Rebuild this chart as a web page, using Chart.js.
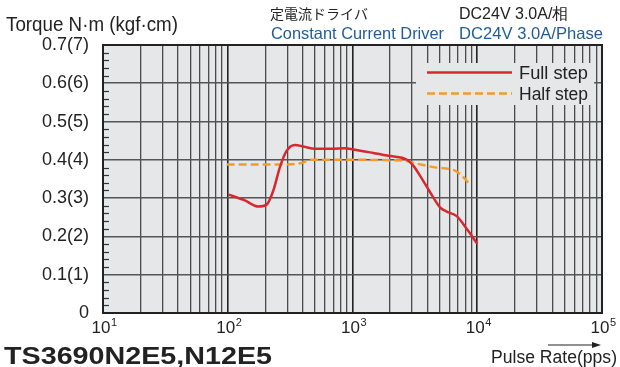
<!DOCTYPE html>
<html>
<head>
<meta charset="utf-8">
<script src="https://cdn.jsdelivr.net/npm/chart.js@4/dist/chart.umd.min.js"></script>
<style>
  html, body { margin: 0; padding: 0; background: #fff; }
  canvas { display: block; }
</style>
</head>
<body>
<canvas id="torque-chart" width="620" height="367"></canvas>
<script>
// Pulse rate (pps) / torque (N·m)
const fullStepX = [102, 137, 176, 205, 232, 262, 297, 346, 404, 500, 680, 871, 1014, 1468, 2000, 2717, 3070, 3473, 4178, 5025, 5685, 6838, 8228, 10000];
const fullStepY = [0.309, 0.294, 0.278, 0.283, 0.320, 0.381, 0.424, 0.439, 0.435, 0.429, 0.429, 0.430, 0.427, 0.418, 0.410, 0.401, 0.385, 0.359, 0.316, 0.276, 0.265, 0.253, 0.220, 0.181];
const halfStepX = [98, 270, 390, 468, 1047, 2554, 3070, 4449, 6637, 7278, 7980, 8870];
const halfStepY = [0.388, 0.388, 0.392, 0.400, 0.400, 0.398, 0.392, 0.381, 0.372, 0.363, 0.350, 0.333];

const decades = [10, 100, 1000, 10000, 100000];
const decadeLabels = ['1', '2', '3', '4', '5'];
const seriesNames = ['Full step', 'Half step'];

const FONT = '"Liberation Sans", Arial, Helvetica, sans-serif';
const CJK = '"Noto Sans CJK JP", "Liberation Sans", sans-serif';
const BLUE = '#1f5c9c';
const RED = '#d7282f';
const ORANGE = '#f39c2b';
const PLOT_BG = '#e6e7e9';

// tick values for the log grid: 1..9 of each decade
const xGridValues = [];
decades.slice(0, -1).forEach(d => {
    for (let m = 1; m < 10; m++) xGridValues.push(m * d);
});
xGridValues.push(decades[decades.length - 1]);

function toPoints(xs, ys) {
    return xs.map((x, i) => ({ x: x, y: ys[i] }));
}

function drawText(ctx, str, x, y, font, color, targetWidth) {
    ctx.save();
    ctx.font = font;
    ctx.fillStyle = color;
    ctx.textAlign = 'left';
    ctx.textBaseline = 'alphabetic';
    if (targetWidth) {
        const w = ctx.measureText(str).width;
        ctx.translate(x, y);
        ctx.scale(targetWidth / w, 1);
        ctx.fillText(str, 0, 0);
    } else {
        ctx.fillText(str, x, y);
    }
    ctx.restore();
}

const frameDecor = {
    id: 'frameDecor',
    beforeDraw(chart) {
        const { ctx, chartArea: a } = chart;
        ctx.save();
        ctx.fillStyle = PLOT_BG;
        ctx.fillRect(a.left, a.top, a.right - a.left, a.bottom - a.top);
        ctx.restore();
    },
    beforeDatasetsDraw(chart) {
        const { ctx, chartArea: a } = chart;
        const y = chart.scales.y;
        // small inward ticks on the left axis
        ctx.save();
        ctx.strokeStyle = '#333';
        ctx.lineWidth = 1.2;
        y.ticks.forEach(t => {
            if (Math.round(t.value * 50) % 5 === 0) return;
            const py = Math.round(y.getPixelForValue(t.value)) + 0.5;
            ctx.beginPath();
            ctx.moveTo(a.left, py);
            ctx.lineTo(a.left + 6, py);
            ctx.stroke();
        });
        ctx.restore();
    },
    afterDatasetsDraw(chart) {
        const { ctx, chartArea: a } = chart;
        // frame
        ctx.save();
        ctx.strokeStyle = '#222';
        ctx.lineWidth = 2;
        ctx.strokeRect(a.left, a.top, a.right - a.left, a.bottom - a.top);
        ctx.restore();

        // legend box
        ctx.save();
        ctx.fillStyle = PLOT_BG;
        ctx.fillRect(416, 63, 178, 42);
        const ds = chart.data.datasets;
        const rows = [72.5, 93.5];
        ds.forEach((d, i) => {
            ctx.strokeStyle = d.borderColor;
            ctx.lineWidth = d.borderWidth;
            ctx.setLineDash(d.borderDash || []);
            ctx.beginPath();
            ctx.moveTo(427, rows[i]);
            ctx.lineTo(512, rows[i]);
            ctx.stroke();
            ctx.setLineDash([]);
            drawText(ctx, d.label, 519, rows[i] + 6, '17.5px ' + FONT, '#222', 69);
        });
        ctx.restore();
    },
    afterDraw(chart) {
        const { ctx, chartArea: a } = chart;
        const x = chart.scales.x;

        // x tick labels 10^n
        decades.forEach((v, i) => {
            const px = x.getPixelForValue(v);
            ctx.save();
            ctx.font = '17px ' + FONT;
            const w1 = ctx.measureText('10').width;
            ctx.font = '11px ' + FONT;
            const w2 = ctx.measureText(decadeLabels[i]).width;
            const left = px - (w1 + w2) / 2 + 1;
            drawText(ctx, '10', left, a.bottom + 20, '17px ' + FONT, '#222');
            drawText(ctx, decadeLabels[i], left + w1 + 0.5, a.bottom + 13, '11px ' + FONT, '#222');
            ctx.restore();
        });

        // titles
        drawText(ctx, 'Torque N·m (kgf·cm)', 6, 31, '19.5px ' + FONT, '#222', 172);
        drawText(ctx, '定電流ドライバ', 270, 19, '14px ' + CJK, '#222');
        drawText(ctx, 'Constant Current Driver', 271, 39, '16.5px ' + FONT, BLUE, 173);
        drawText(ctx, 'DC24V 3.0A/相', 459, 19, '16px ' + FONT, '#222');
        drawText(ctx, 'DC24V 3.0A/Phase', 459, 39, '16.5px ' + FONT, BLUE, 144);
        drawText(ctx, 'TS3690N2E5,N12E5', 4, 364, 'bold 23px ' + FONT, '#222', 268);
        drawText(ctx, 'Pulse Rate(pps)', 491, 363, '17.5px ' + FONT, '#222', 126);

        // arrow over the x axis title
        ctx.save();
        ctx.strokeStyle = '#222';
        ctx.fillStyle = '#222';
        ctx.lineWidth = 1.2;
        ctx.beginPath();
        ctx.moveTo(548, 345);
        ctx.lineTo(594, 345);
        ctx.stroke();
        ctx.beginPath();
        ctx.moveTo(601, 345);
        ctx.lineTo(592, 342);
        ctx.lineTo(592, 348);
        ctx.closePath();
        ctx.fill();
        ctx.restore();
    }
};

const chart = new Chart(document.getElementById('torque-chart'), {
    type: 'line',
    data: {
        datasets: [
            {
                label: seriesNames[0],
                data: toPoints(fullStepX, fullStepY),
                borderColor: RED,
                borderWidth: 2.5,
                pointRadius: 0,
                cubicInterpolationMode: 'monotone',
                fill: false
            },
            {
                label: seriesNames[1],
                data: toPoints(halfStepX, halfStepY),
                borderColor: ORANGE,
                borderWidth: 2.5,
                borderDash: [8, 4],
                pointRadius: 0,
                cubicInterpolationMode: 'monotone',
                fill: false
            }
        ]
    },
    options: {
        responsive: false,
        animation: false,
        devicePixelRatio: 1,
        layout: { padding: { top: 45, right: 18, bottom: 54, left: 0 } },
        plugins: {
            legend: { display: false },
            tooltip: { enabled: false }
        },
        scales: {
            x: {
                type: 'logarithmic',
                min: 10,
                max: 100000,
                afterBuildTicks: scale => {
                    scale.ticks = xGridValues.map(v => ({ value: v }));
                },
                ticks: { display: false },
                grid: {
                    drawTicks: false,
                    color: c => {
                        const v = c.tick ? c.tick.value : 0;
                        return decades.includes(v) ? '#222' : '#4a4a4a';
                    },
                    lineWidth: c => {
                        const v = c.tick ? c.tick.value : 0;
                        return decades.includes(v) ? 1.6 : 1.3;
                    }
                },
                border: { display: true, color: '#222', width: 2 }
            },
            y: {
                type: 'linear',
                min: 0,
                max: 0.7,
                afterFit: scale => { scale.width = 103; },
                ticks: {
                    stepSize: 0.02,
                    autoSkip: false,
                    padding: 14,
                    color: '#222',
                    font: { family: FONT, size: 18 },
                    callback: value => {
                        const k = Math.round(value * 50);
                        if (k % 5 !== 0) return '';
                        const n = k / 5;
                        return n === 0 ? '0' : (n / 10).toFixed(1) + '(' + n + ')';
                    }
                },
                grid: {
                    drawTicks: false,
                    color: c => {
                        const v = c.tick ? c.tick.value : 0;
                        return Math.round(v * 50) % 5 === 0 ? '#555' : 'rgba(0,0,0,0)';
                    },
                    lineWidth: 1.6
                },
                border: { display: true, color: '#222', width: 2 }
            }
        }
    },
    plugins: [frameDecor]
});
</script>
</body>
</html>
